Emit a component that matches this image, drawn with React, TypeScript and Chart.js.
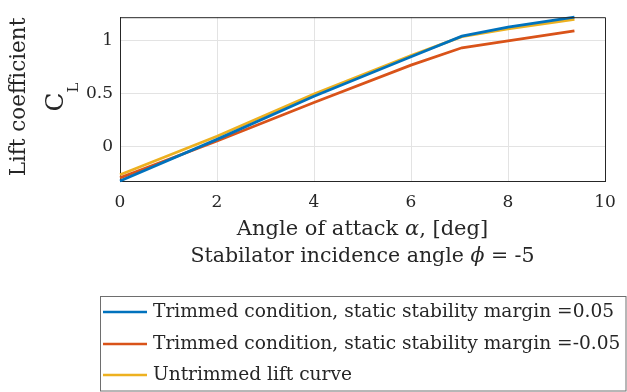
import React, { useEffect, useRef } from "react";
import { Chart, registerables } from "chart.js";

Chart.register(...registerables);

// Angle of attack samples, deg
const alpha = [0, 2, 4, 6, 7.05, 8, 9.37];

// Lift coefficient per case
const trimmedPositive = [-0.33, 0.065, 0.475, 0.85, 1.045, 1.13, 1.225];
const trimmedNegative = [-0.3, 0.05, 0.415, 0.77, 0.935, 1.0, 1.095];
const untrimmed = [-0.27, 0.095, 0.495, 0.862, 1.04, 1.115, 1.205];

const xTicks = [0, 2, 4, 6, 8, 10];
const yTicks = [0, 0.5, 1];

const seriesLabels = [
  "Trimmed condition, static stability margin =0.05",
  "Trimmed condition, static stability margin =-0.05",
  "Untrimmed lift curve",
];
const seriesColors = ["#0072BD", "#D95319", "#EDB120"];

const FONT = "'DejaVu Serif', serif";
const INK = "#262626";

const toPoints = (ys: number[]) => ys.map((y, i) => ({ x: alpha[i], y }));

const annotations = {
  id: "annotations",
  afterDraw(chart: any) {
    const { ctx, chartArea } = chart;
    const { left, right, top, bottom } = chartArea;
    ctx.save();

    // box outline (top and right edges)
    ctx.strokeStyle = INK;
    ctx.lineWidth = 1;
    ctx.beginPath();
    ctx.moveTo(left, top + 0.5);
    ctx.lineTo(right + 0.5, top + 0.5);
    ctx.lineTo(right + 0.5, bottom);
    ctx.stroke();

    ctx.fillStyle = INK;

    // y-axis title
    ctx.save();
    ctx.translate(19, 97);
    ctx.rotate(-Math.PI / 2);
    ctx.textAlign = "center";
    ctx.textBaseline = "middle";
    ctx.font = `21.5px ${FONT}`;
    ctx.fillText("Lift coefficient", 0, 0);
    ctx.restore();

    ctx.save();
    ctx.translate(63, 97);
    ctx.rotate(-Math.PI / 2);
    ctx.textBaseline = "alphabetic";
    ctx.font = `25px ${FONT}`;
    const cW = ctx.measureText("C").width;
    ctx.font = `15px ${FONT}`;
    const lW = ctx.measureText("L").width;
    const start = -(cW + lW) / 2;
    ctx.font = `25px ${FONT}`;
    ctx.textAlign = "left";
    ctx.fillText("C", start, 0);
    ctx.font = `15px ${FONT}`;
    ctx.fillText("L", start + cW, 15);
    ctx.restore();

    // x-axis title lines
    const cx = (left + right) / 2;
    const drawMixed = (parts: [string, boolean][], y: number, size: number) => {
      const widths = parts.map(([t, it]) => {
        ctx.font = `${it ? "italic " : ""}${size}px ${FONT}`;
        return ctx.measureText(t).width;
      });
      const total = widths.reduce((a, b) => a + b, 0);
      let x = cx - total / 2;
      ctx.textAlign = "left";
      ctx.textBaseline = "middle";
      parts.forEach(([t, it], i) => {
        ctx.font = `${it ? "italic " : ""}${size}px ${FONT}`;
        ctx.fillText(t, x, y);
        x += widths[i];
      });
    };
    drawMixed(
      [
        ["Angle of attack ", false],
        ["α", true],
        [", [deg]", false],
      ],
      230,
      21
    );
    drawMixed(
      [
        ["Stabilator incidence angle ", false],
        ["ϕ", true],
        [" = -5", false],
      ],
      257,
      20.5
    );

    // legend
    const bx = 100.5;
    const by = 296.5;
    ctx.fillStyle = "#ffffff";
    ctx.fillRect(bx, by, 626 - bx, 391 - by);
    ctx.strokeStyle = "#6e6e6e";
    ctx.lineWidth = 1;
    ctx.strokeRect(bx, by, 626 - bx, 391 - by);
    const rows = [312, 344, 375];
    seriesLabels.forEach((label, i) => {
      ctx.strokeStyle = seriesColors[i];
      ctx.lineWidth = 2.5;
      ctx.beginPath();
      ctx.moveTo(103, rows[i]);
      ctx.lineTo(147, rows[i]);
      ctx.stroke();
      ctx.fillStyle = INK;
      ctx.font = `18.6px ${FONT}`;
      ctx.textAlign = "left";
      ctx.textBaseline = "middle";
      ctx.fillText(label, 153, rows[i]);
    });

    ctx.restore();
  },
};

export default function App() {
  const canvasRef = useRef<HTMLCanvasElement | null>(null);

  useEffect(() => {
    if (!canvasRef.current) return;
    const datasets = [trimmedPositive, trimmedNegative, untrimmed].map((ys, i) => ({
      label: seriesLabels[i],
      data: toPoints(ys),
      borderColor: seriesColors[i],
      backgroundColor: seriesColors[i],
      borderWidth: 2.8,
      pointRadius: 0,
      tension: 0,
      clip: 3,
    }));

    const chart = new Chart(canvasRef.current, {
      type: "line",
      data: { datasets },
      plugins: [annotations],
      options: {
        animation: false,
        responsive: false,
        devicePixelRatio: 1,
        layout: { padding: { left: 0, top: 12, right: 22, bottom: 0 } },
        plugins: {
          legend: { display: false },
          tooltip: { enabled: false },
        },
        scales: {
          x: {
            type: "linear",
            min: 0,
            max: 10,
            afterBuildTicks: (scale: any) => {
              scale.ticks = xTicks.map((v) => ({ value: v }));
            },
            afterFit: (scale: any) => {
              scale.height = 211;
            },
            grid: { color: "#e3e3e3", lineWidth: 1, drawTicks: false },
            border: { display: true, color: INK, width: 1 },
            ticks: {
              color: INK,
              font: { family: FONT, size: 17 },
              padding: 11,
              maxRotation: 0,
              callback: (v: any) => String(v),
            },
          },
          y: {
            type: "linear",
            min: -0.33,
            max: 1.225,
            afterBuildTicks: (scale: any) => {
              scale.ticks = yTicks.map((v) => ({ value: v }));
            },
            afterFit: (scale: any) => {
              scale.width = 120;
            },
            grid: { color: "#e3e3e3", lineWidth: 1, drawTicks: false },
            border: { display: true, color: INK, width: 1 },
            ticks: {
              color: INK,
              font: { family: FONT, size: 17 },
              padding: 7,
              callback: (v: any) => String(v),
            },
          },
        },
      },
    });
    return () => chart.destroy();
  }, []);

  return (
    <div style={{ position: "fixed", left: 0, top: 0, width: 627, height: 392, background: "#fff" }}>
      <canvas ref={canvasRef} width={627} height={392} />
    </div>
  );
}
